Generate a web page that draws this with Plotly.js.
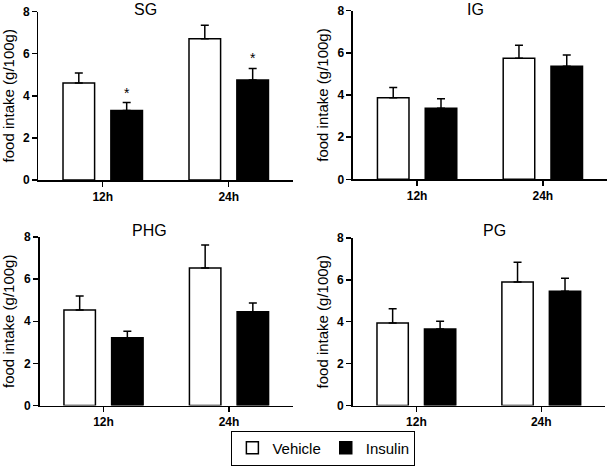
<!DOCTYPE html>
<html>
<head>
<meta charset="utf-8">
<script src="https://cdn.plot.ly/plotly-3.0.1.min.js"></script>
<style>html,body{margin:0;padding:0;background:#fff;}#chart{width:609px;height:466px;}</style>
</head>
<body>
<div id="chart"></div>
<script>
// ---- data ----
const categories = ['12h', '24h'];
const panelNames = ['SG', 'IG', 'PHG', 'PG'];
const seriesNames = ['Vehicle', 'Insulin'];
// mean food intake (g/100g) per panel, [12h, 24h]
const vehicleMean = [[4.60, 6.71], [3.87, 5.74], [4.54, 6.53], [3.94, 5.90]];
const vehicleSEM  = [[0.48, 0.64], [0.49, 0.62], [0.66, 1.09], [0.68, 0.94]];
const insulinMean = [[3.30, 4.75], [3.37, 5.37], [3.22, 4.45], [3.65, 5.46]];
const insulinSEM  = [[0.38, 0.55], [0.45, 0.53], [0.31, 0.42], [0.38, 0.62]];
// significance marks (*) on insulin bars
const insulinSignificant = [[true, true], [false, false], [false, false], [false, false]];
const yTickVals = [0, 2, 4, 6, 8];
const yTitle = 'food intake (g/100g)';

// ---- style / layout ----
const FONT = 'Liberation Sans, Arial, sans-serif';
const bargap = 0.24, bargroupgap = 0.34;
const slot = (1 - bargap) / 2;
const xDomains = [[0.0632, 0.4811], [0.5796, 0.9967], [0.0649, 0.4811], [0.5791, 0.9934]];
const yDomains = [[0.6137, 0.9753], [0.6152, 0.9770], [0.1298, 0.4914], [0.1298, 0.4893]];
const titlePos = [[145, 10], [475, 9], [149, 230], [494, 230]];

const traces = [];
const annotations = [];
const layout = {
  width: 609, height: 466,
  margin: {l: 0, r: 0, t: 0, b: 0},
  paper_bgcolor: '#fff', plot_bgcolor: '#fff',
  barmode: 'group', bargap: bargap, bargroupgap: bargroupgap,
  font: {family: FONT, color: '#000'},
  showlegend: true,
  legend: {
    orientation: 'h', x: 0.531, xanchor: 'center', y: 0.001, yanchor: 'bottom',
    bordercolor: '#000', borderwidth: 1, bgcolor: '#fff',
    font: {family: FONT, size: 15, color: '#000'}, traceorder: 'normal'
  }
};

panelNames.forEach((name, i) => {
  const n = i + 1;
  const xa = 'x' + (n === 1 ? '' : n), ya = 'y' + (n === 1 ? '' : n);
  const zeros = categories.map(() => 0);
  const series = [
    {name: seriesNames[0], mean: vehicleMean[i], sem: vehicleSEM[i], fill: '#ffffff'},
    {name: seriesNames[1], mean: insulinMean[i], sem: insulinSEM[i], fill: '#000000'}
  ];
  series.forEach(s => {
    traces.push({
      type: 'bar', x: categories, y: s.mean, name: s.name,
      xaxis: xa, yaxis: ya, showlegend: i === 0, legendgroup: s.name,
      marker: {color: s.fill, line: {color: '#000', width: 1.5}},
      error_y: {type: 'data', symmetric: false, array: s.sem, arrayminus: zeros,
                color: '#000', thickness: 1.5, width: 4},
      hoverinfo: 'skip'
    });
  });
  // asterisks above significant insulin bars
  insulinSignificant[i].forEach((sig, k) => {
    if (!sig) return;
    annotations.push({
      xref: xa, yref: ya, x: k + slot / 2, y: insulinMean[i][k] + insulinSEM[i][k],
      text: '*', showarrow: false, yanchor: 'bottom', yshift: 0,
      font: {family: FONT, size: 14, color: '#000'}
    });
  });
  // panel title
  annotations.push({
    xref: 'paper', yref: 'paper', x: titlePos[i][0] / 609, y: 1 - titlePos[i][1] / 466,
    xanchor: 'center', yanchor: 'middle', text: name, showarrow: false,
    font: {family: FONT, size: 16, color: '#000'}
  });
  layout['xaxis' + (n === 1 ? '' : n)] = {
    domain: xDomains[i], anchor: ya, type: 'category', range: [-0.51, 1.51],
    showline: true, linecolor: '#000', linewidth: 1.5, showgrid: false, zeroline: false,
    ticks: 'outside', ticklen: 5, tickwidth: 1.5, tickcolor: '#000',
    tickfont: {family: FONT, size: 12, color: '#000', weight: 'bold'}, fixedrange: true
  };
  layout['yaxis' + (n === 1 ? '' : n)] = {
    domain: yDomains[i], anchor: xa, range: [0, 8], tickvals: yTickVals,
    showline: true, linecolor: '#000', linewidth: 1.5, showgrid: false, zeroline: false,
    ticks: 'outside', ticklen: 5, tickwidth: 1.5, tickcolor: '#000',
    tickfont: {family: FONT, size: 12, color: '#000', weight: 'bold'},
    title: {text: yTitle, font: {family: FONT, size: 15, color: '#000'}, standoff: 5},
    fixedrange: true
  };
});
layout.annotations = annotations;

Plotly.newPlot('chart', traces, layout, {staticPlot: true, displayModeBar: false});
</script>
</body>
</html>
